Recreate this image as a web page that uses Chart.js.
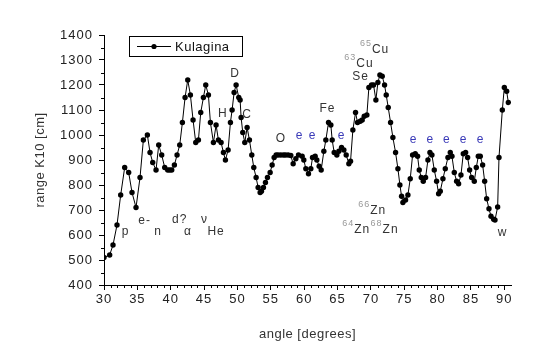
<!DOCTYPE html>
<html>
<head>
<meta charset="utf-8">
<script src="https://cdn.jsdelivr.net/npm/chart.js@4"></script>
<style>
  body { margin: 0; background: #fff; }
  canvas { display: block; }
</style>
</head>
<body>
<canvas id="chart" width="543" height="362"></canvas>
<script>
const angles = [
  30.0, 30.85, 31.35, 31.95, 32.5, 33.1, 33.7, 34.2, 34.8, 35.4,
  35.9, 36.5, 36.9, 37.3, 37.8, 38.2, 38.65, 39.1, 39.55, 39.85,
  40.15, 40.55, 40.95, 41.35, 41.75, 42.15, 42.55, 42.95, 43.35, 43.75,
  44.15, 44.5, 44.9, 45.25, 45.65, 45.95, 46.4, 46.8, 47.15, 47.55,
  47.9, 48.2, 48.6, 48.95, 49.2, 49.5, 49.8, 50.2, 50.4, 50.55,
  50.8, 51.1, 51.45, 51.8, 52.15, 52.45, 52.8, 53.1, 53.4, 53.6,
  53.9, 54.2, 54.5, 54.9, 55.2, 55.5, 55.8, 56.1, 56.5, 56.9,
  57.2, 57.6, 58.0, 58.35, 58.75, 59.15, 59.7, 59.95, 60.25, 60.65,
  61.0, 61.25, 61.65, 61.9, 62.25, 62.55, 62.95, 63.25, 63.65, 64.0,
  64.2, 64.5, 64.9, 65.2, 65.6, 65.95, 66.3, 66.7, 66.95, 67.3,
  67.7, 68.0, 68.4, 68.7, 69.0, 69.4, 69.7, 70.1, 70.4, 70.75,
  71.05, 71.35, 71.7, 72.05, 72.3, 72.6, 72.95, 73.3, 73.7, 74.05,
  74.35, 74.6, 74.8, 75.2, 75.55, 75.9, 76.25, 76.65, 77.0, 77.25,
  77.55, 77.85, 78.2, 78.55, 78.85, 79.15, 79.5, 79.85, 80.15, 80.4,
  80.8, 81.15, 81.55, 81.9, 82.15, 82.5, 82.85, 83.15, 83.5, 83.85,
  84.2, 84.5, 84.8, 85.1, 85.5, 85.8, 86.1, 86.4, 86.75, 87.05,
  87.35, 87.7, 88.0, 88.4, 88.6, 89.0, 89.2, 89.7, 90.0, 90.35,
  90.6
];
const ranges = [
  510, 520, 560, 640, 760, 870, 850, 770, 710, 830,
  980, 1000, 930, 890, 860, 960, 920, 870, 860, 860,
  860, 880, 920, 960, 1050, 1150, 1220, 1160, 1060, 970,
  980, 1090, 1150, 1200, 1160, 1050, 970, 1040, 980, 970,
  930, 900, 940, 1050, 1100, 1170, 1200, 1150, 1140, 1070,
  1010, 970, 1030, 980, 920, 870, 830, 790, 770, 775,
  790, 810, 830, 850, 880, 910, 920, 920, 920, 920,
  920, 920, 918, 885, 905, 920, 915, 900, 865, 845,
  865, 910, 915, 900, 875, 860, 935, 980, 1050, 1040,
  980, 930, 920, 935, 950, 940, 920, 885, 895, 1020,
  1090, 1050, 1055, 1060, 1075, 1080, 1190, 1200, 1200, 1140,
  1210, 1240, 1235, 1200, 1160, 1110, 1050, 990, 930, 865,
  800, 755, 730, 740, 760, 825, 920, 925, 915, 860,
  830, 815, 830, 900, 930, 920, 860, 815, 765, 775,
  825, 865, 910, 930, 915, 850, 815, 805, 840, 925,
  930, 910, 860, 830, 815, 870, 915, 915, 880, 815,
  745, 705, 675, 663, 660, 712, 910, 1100, 1190, 1175,
  1130
];

// text labels placed in data coordinates
const peakLabels = [
  { t: "p", x: 33.25, y: 613 },
  { t: "e-", x: 36.1, y: 656 },
  { t: "n", x: 38.1, y: 613 },
  { t: "d?", x: 41.35, y: 660 },
  { t: "\u03b1", x: 42.6, y: 613 },
  { t: "\u03bd", x: 45.05, y: 660 },
  { t: "He", x: 46.8, y: 613 },
  { t: "H", x: 47.8, y: 1087 },
  { t: "D", x: 49.65, y: 1244 },
  { t: "C", x: 51.45, y: 1083 },
  { t: "O", x: 56.5, y: 987 },
  { t: "Fe", x: 63.5, y: 1107 },
  { t: "Se", x: 68.45, y: 1233 },
  { t: "Cu", sup: "63", x: 69.1, y: 1287 },
  { t: "Cu", sup: "65", x: 71.45, y: 1340 },
  { t: "Zn", sup: "66", x: 71.1, y: 696 },
  { t: "Zn", sup: "64", x: 68.7, y: 623 },
  { t: "Zn", sup: "68", x: 72.95, y: 623 },
  { t: "w", x: 89.75, y: 609 }
];
const electronX = [59.3, 61.25, 65.6];
const electronX2 = [76.4, 78.9, 81.4, 83.9, 86.45];

const FONT = "Liberation Sans, Arial, sans-serif";
const COR_TEXTO = "#333";
const COR_E = "#3a3ab8";

const overlay = {
  id: "overlay",
  beforeDraw(chart) {
    // Origin-style spaced digits on the tick labels
    chart.ctx.letterSpacing = "1px";
  },
  afterDraw(chart) {
    const c = chart.ctx;
    const xs = chart.scales.x;
    const ys = chart.scales.y;
    const a = chart.chartArea;
    c.save();

    // minor ticks
    c.strokeStyle = "#000";
    c.lineWidth = 1;
    c.beginPath();
    for (let v = 31; v <= 90; v++) {
      if (v % 5 === 0) continue;
      const px = Math.round(xs.getPixelForValue(v)) + 0.5;
      c.moveTo(px, a.bottom);
      c.lineTo(px, a.bottom + 3);
    }
    for (let v = 450; v < 1400; v += 100) {
      const py = Math.round(ys.getPixelForValue(v)) + 0.5;
      c.moveTo(a.left, py);
      c.lineTo(a.left - 3, py);
    }
    c.stroke();

    // axis titles
    c.letterSpacing = "0.5px";
    c.fillStyle = COR_TEXTO;
    c.font = "13px " + FONT;
    c.textAlign = "center";
    c.textBaseline = "middle";
    c.fillText("angle [degrees]", (a.left + a.right) / 2, 334);
    c.save();
    c.translate(40, (a.top + a.bottom) / 2);
    c.rotate(-Math.PI / 2);
    c.fillText("range K10 [cm]", 0, 0);
    c.restore();

    // legend
    c.strokeStyle = "#000";
    c.strokeRect(129.5, 36.5, 113, 20);
    c.beginPath();
    c.moveTo(137, 46.5);
    c.lineTo(171, 46.5);
    c.stroke();
    c.beginPath();
    c.arc(154, 46.5, 2.6, 0, Math.PI * 2);
    c.fillStyle = "#000";
    c.fill();
    c.fillStyle = "#111";
    c.textAlign = "left";
    c.font = "13px " + FONT;
    c.fillText("Kulagina", 175, 47);

    // peak labels
    c.letterSpacing = "1px";
    peakLabels.forEach((l) => {
      const px = xs.getPixelForValue(l.x);
      const py = ys.getPixelForValue(l.y);
      c.font = "12px " + FONT;
      c.fillStyle = COR_TEXTO;
      c.textAlign = "center";
      c.fillText(l.t, px, py);
      if (l.sup) {
        const w = c.measureText(l.t).width;
        c.font = "9px " + FONT;
        c.fillStyle = "#999";
        c.textAlign = "right";
        c.fillText(l.sup, px - w / 2, py - 6);
      }
    });

    // electron marks
    c.font = "12px " + FONT;
    c.fillStyle = COR_E;
    c.textAlign = "center";
    electronX.forEach((x) => c.fillText("e", xs.getPixelForValue(x), ys.getPixelForValue(998)));
    electronX2.forEach((x) => c.fillText("e", xs.getPixelForValue(x), ys.getPixelForValue(980)));

    c.restore();
  },
};

new Chart(document.getElementById("chart"), {
  type: "line",
  data: {
    datasets: [{
      label: "Kulagina",
      data: angles.map((x, i) => ({ x: x, y: ranges[i] })),
      borderColor: "#000",
      borderWidth: 1,
      pointRadius: 2.7,
      pointBorderWidth: 0,
      pointBackgroundColor: "#000",
      tension: 0,
    }],
  },
  options: {
    responsive: false,
    animation: false,
    layout: { padding: { top: 35, right: 32, left: 0, bottom: 0 } },
    plugins: { legend: { display: false }, tooltip: { enabled: false } },
    scales: {
      x: {
        type: "linear",
        min: 30,
        max: 91,
        afterFit(s) { s.height = 77; },
        ticks: {
          stepSize: 5,
          includeBounds: false,
          autoSkip: false,
          maxRotation: 0,
          padding: 2,
          color: "#222",
          font: { family: FONT, size: 13 },
          callback: (v) => String(v),
        },
        grid: { drawOnChartArea: false, tickLength: 5, color: "#000" },
        border: { color: "#000", width: 1 },
      },
      y: {
        min: 400,
        max: 1400,
        afterFit(s) { s.width = 104; },
        ticks: {
          stepSize: 100,
          padding: 6,
          color: "#222",
          font: { family: FONT, size: 13 },
          callback: (v) => String(v),
        },
        grid: { drawOnChartArea: false, tickLength: 5, color: "#000" },
        border: { color: "#000", width: 1 },
      },
    },
  },
  plugins: [overlay],
});
</script>
</body>
</html>
